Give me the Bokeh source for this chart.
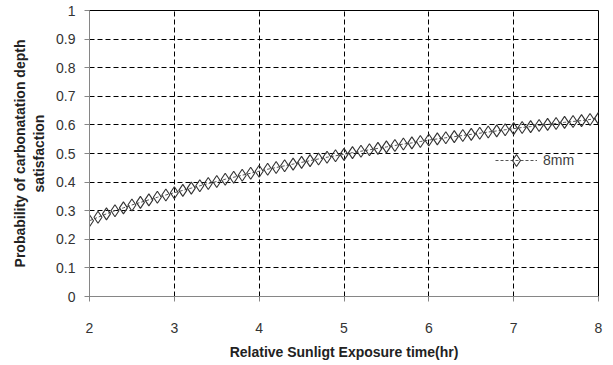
from bokeh.plotting import figure
from bokeh.models import FixedTicker, Legend, LegendItem
from bokeh.embed import file_html
from bokeh.resources import INLINE

# ---- data ----
exposure_hr = [round(2.0 + 0.1 * i, 1) for i in range(61)]
prob_8mm = [
    0.265, 0.277, 0.289, 0.300, 0.310, 0.320, 0.329, 0.338, 0.347, 0.355,
    0.363, 0.371, 0.379, 0.387, 0.395, 0.402, 0.410, 0.417, 0.424, 0.431,
    0.438, 0.445, 0.451, 0.457, 0.463, 0.469, 0.475, 0.481, 0.487, 0.492,
    0.497, 0.503, 0.508, 0.513, 0.518, 0.523, 0.528, 0.533, 0.537, 0.542,
    0.547, 0.551, 0.555, 0.559, 0.563, 0.567, 0.571, 0.575, 0.579, 0.583,
    0.587, 0.591, 0.594, 0.598, 0.602, 0.605, 0.609, 0.612, 0.615, 0.619,
    0.623,
]
x_ticks = [2, 3, 4, 5, 6, 7, 8]
y_ticks = [0, 0.1, 0.2, 0.3, 0.4, 0.5, 0.6, 0.7, 0.8, 0.9, 1]
y_tick_labels = ["0", "0.1", "0.2", "0.3", "0.4", "0.5", "0.6", "0.7", "0.8", "0.9", "1"]
series_name = "8mm"
x_title = "Relative Sunligt Exposure time(hr)"
y_title = "Probability of carbonatation depth\nsatisfaction"

FONT = "Liberation Sans"

p = figure(width=613, height=365, x_range=(2, 8), y_range=(0, 1),
           output_backend="svg", toolbar_location=None,
           min_border_left=89, min_border_right=15,
           min_border_top=10, min_border_bottom=69)
p.background_fill_color = "white"
p.border_fill_color = "white"
p.outline_line_color = "black"
p.outline_line_width = 1

# grid
for g in (p.xgrid, p.ygrid):
    g.grid_line_color = "black"
    g.grid_line_dash = "5 3"
    g.grid_line_width = 1

p.xaxis.ticker = FixedTicker(ticks=x_ticks)
p.yaxis.ticker = FixedTicker(ticks=y_ticks)
p.yaxis.major_label_overrides = {t: l for t, l in zip(y_ticks, y_tick_labels)}

for ax in (p.xaxis, p.yaxis):
    ax.axis_line_color = "#868686"
    ax.major_tick_line_color = "#868686"
    ax.major_tick_out = 5
    ax.major_tick_in = 0
    ax.minor_tick_line_color = None
    ax.major_label_text_font = FONT
    ax.major_label_text_font_size = "14px"
    ax.major_label_text_color = "#333333"
    ax.axis_label_text_font = FONT
    ax.axis_label_text_font_style = "bold"
    ax.axis_label_text_font_size = "14px"
    ax.axis_label_text_color = "#222222"

p.xaxis.axis_label = x_title
p.yaxis.axis_label = y_title
p.xaxis.major_label_standoff = 21
p.xaxis.axis_label_standoff = 8
p.yaxis.major_label_standoff = 9
p.yaxis.axis_label_standoff = 6

ln = p.line(exposure_hr, prob_8mm, line_color="#555555", line_dash="3 2", line_width=1)
sc = p.scatter(exposure_hr, prob_8mm, marker="diamond", size=12,
               fill_color=None, line_color="#333333", line_width=1.1)

legend = Legend(items=[LegendItem(label=series_name, renderers=[ln, sc])],
                location=(406, 121), background_fill_alpha=0, border_line_color=None,
                label_text_font=FONT, label_text_font_size="14px",
                label_text_color="#404040", glyph_width=42, glyph_height=30,
                padding=0, margin=0, spacing=0, label_standoff=6)
p.add_layout(legend)

open("out.html", "w").write(file_html(p, INLINE))
